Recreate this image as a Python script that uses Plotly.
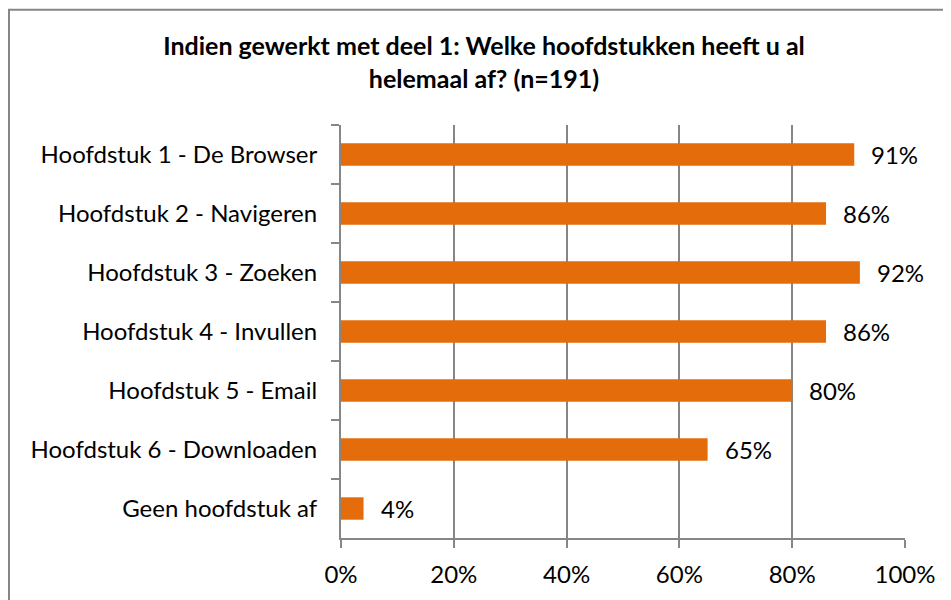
import plotly.graph_objects as go

# data
categories = [
    "Hoofdstuk 1 - De Browser",
    "Hoofdstuk 2 - Navigeren",
    "Hoofdstuk 3 - Zoeken",
    "Hoofdstuk 4 - Invullen",
    "Hoofdstuk 5 - Email",
    "Hoofdstuk 6 - Downloaden",
    "Geen hoofdstuk af",
]
percentages = [91, 86, 92, 86, 80, 65, 4]
x_ticks = [0, 20, 40, 60, 80, 100]
x_tick_labels = ["0%", "20%", "40%", "60%", "80%", "100%"]

font_family = "Lato, 'Open Sans', sans-serif"
bar_color = "#E46C0A"
grid_color = "#868686"

# the page puts the figure 8px in from the top-left corner
W, H = 943, 592
L, R, T, B = 333, 46, 117, 59
pw, ph = W - L - R, H - T - B

fig = go.Figure()

fig.add_trace(go.Bar(
    x=[p / 100 for p in percentages],
    y=categories,
    orientation="h",
    marker=dict(color=bar_color, line=dict(width=0)),
    width=0.38,
    showlegend=False,
    hoverinfo="skip",
))

# data labels to the right of each bar
for cat, p in zip(categories, percentages):
    fig.add_annotation(
        x=p / 100, y=cat, text=f"{p}%",
        xanchor="left", xshift=15, showarrow=False,
        font=dict(family=font_family, size=24, color="black"),
    )

# outer chart border
fig.add_shape(
    type="rect", xref="paper", yref="paper",
    x0=(1 - L) / pw, x1=(940 - L) / pw,
    y0=(H - B - H - 20) / ph, y1=1 + (T - 1) / ph,
    line=dict(color="#868686", width=2), layer="below",
)

fig.update_layout(
    width=W, height=H,
    margin=dict(l=L, r=R, t=T, b=B),
    paper_bgcolor="white", plot_bgcolor="white",
    font=dict(family=font_family, size=24, color="black"),
    title=dict(
        text="<b>Indien gewerkt met deel 1: Welke hoofdstukken heeft u al<br>helemaal af? (n=191)</b>",
        x=476 / W, xref="container", xanchor="center",
        y=1 - 47 / H, yref="container", yanchor="middle",
        font=dict(family=font_family, size=25, color="black"),
    ),
)

fig.update_xaxes(
    range=[0, 1],
    tickvals=[t / 100 for t in x_ticks],
    ticktext=x_tick_labels,
    showgrid=True, gridcolor=grid_color, gridwidth=2,
    showline=True, linecolor=grid_color, linewidth=2,
    ticks="outside", ticklen=8, tickcolor=grid_color, tickwidth=2,
    tickfont=dict(family=font_family, size=24, color="black"),
    ticklabelstandoff=6,
    zeroline=False, fixedrange=True,
)

fig.update_yaxes(
    categoryorder="array", categoryarray=categories,
    autorange="reversed",
    showgrid=False,
    showline=True, linecolor=grid_color, linewidth=2,
    ticks="outside", tickson="boundaries", ticklen=8,
    tickcolor=grid_color, tickwidth=2,
    tickfont=dict(family=font_family, size=24, color="black"),
    ticklabelstandoff=17,
    zeroline=False, fixedrange=True,
)

fig.write_html("out.html")
